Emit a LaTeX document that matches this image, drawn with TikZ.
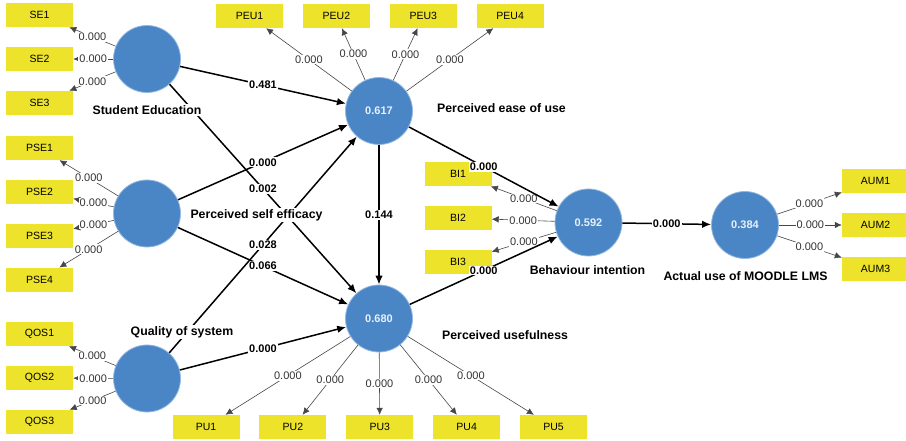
\documentclass[tikz,border=0pt]{standalone}
\usepackage{fontspec}
\setmainfont{Liberation Sans}
\usepackage{xcolor}
\usepackage{tikz}
\usetikzlibrary{positioning,arrows.meta}

\definecolor{lvblue}{RGB}{74,134,197}
\definecolor{lvedge}{RGB}{150,185,225}
\definecolor{mvyellow}{RGB}{237,227,42}
\definecolor{mvline}{RGB}{70,70,70}

\begin{document}
\begin{tikzpicture}[x=1pt, y=1pt, node distance=19.5pt,
	lv/.style={circle, fill=lvblue, draw=lvedge, line width=0.8pt, minimum size=67pt, inner sep=0pt, text=white!88!lvblue, font=\fontsize{11}{13}\selectfont\bfseries},
	mv/.style={rectangle, fill=mvyellow, minimum width=67pt, minimum height=24pt, inner sep=0pt, font=\fontsize{10.5}{12}\selectfont},
	lvname/.style={fill=white, inner sep=1pt, font=\fontsize{12.3}{14}\selectfont\bfseries},
	loading/.style={draw=mvline, line width=0.6pt, -{Latex[length=7pt,width=6.5pt]}},
	struct/.style={draw=black, line width=1.5pt, -{Latex[length=9pt,width=7.5pt]}},
	val/.style={fill=white, inner sep=1pt, text=black!80, font=\fontsize{11}{13}\selectfont},
	coef/.style={fill=white, inner sep=1pt, font=\fontsize{11}{13}\selectfont\bfseries}]
	\useasboundingbox (0,0) rectangle (906,441);

	% latent variables
	\node[lv] (SE) at (147,382) {};
	\node[lv] (PSE) at (147,227.5) {};
	\node[lv] (QOS) at (147,62.5) {};
	\node[lv] (PEU) at (379,330) {0.617};
	\node[lv] (PU) at (379,122.5) {0.680};
	\node[lv] (BI) at (588.5,218.5) {0.592};
	\node[lv] (AUM) at (745,216) {0.384};

	% indicators
	\node[mv] (SE2) at (39.5,382) {SE2};
	\node[mv, above=of SE2] (SE1) {SE1};
	\node[mv, below=of SE2] (SE3) {SE3};
	\node[mv] (PSE1) at (39.5,293) {PSE1};
	\node[mv, below=of PSE1] (PSE2) {PSE2};
	\node[mv, below=of PSE2] (PSE3) {PSE3};
	\node[mv, below=of PSE3] (PSE4) {PSE4};
	\node[mv] (QOS2) at (39.5,63) {QOS2};
	\node[mv, above=of QOS2] (QOS1) {QOS1};
	\node[mv, below=of QOS2] (QOS3) {QOS3};
	\node[mv] (PEU1) at (249.5,425) {PEU1};
	\node[mv, right=of PEU1] (PEU2) {PEU2};
	\node[mv, right=of PEU2] (PEU3) {PEU3};
	\node[mv, right=of PEU3] (PEU4) {PEU4};
	\node[mv] (PU1) at (206,14) {PU1};
	\node[mv, right=of PU1] (PU2) {PU2};
	\node[mv, right=of PU2] (PU3) {PU3};
	\node[mv, right=of PU3] (PU4) {PU4};
	\node[mv, right=of PU4] (PU5) {PU5};
	\node[mv] (BI2) at (458,223) {BI2};
	\node[mv, above=of BI2] (BI1) {BI1};
	\node[mv, below=of BI2] (BI3) {BI3};
	\node[mv] (AUM2) at (875.5,216) {AUM2};
	\node[mv, above=of AUM2] (AUM1) {AUM1};
	\node[mv, below=of AUM2] (AUM3) {AUM3};

	% outer loadings
	\draw[loading] (SE) -- node[val] {0.000} (SE1);
	\draw[loading] (SE) -- node[val] {0.000} (SE2);
	\draw[loading] (SE) -- node[val] {0.000} (SE3);
	\draw[loading] (PSE) -- node[val] {0.000} (PSE1);
	\draw[loading] (PSE) -- node[val] {0.000} (PSE2);
	\draw[loading] (PSE) -- node[val] {0.000} (PSE3);
	\draw[loading] (PSE) -- node[val] {0.000} (PSE4);
	\draw[loading] (QOS) -- node[val] {0.000} (QOS1);
	\draw[loading] (QOS) -- node[val] {0.000} (QOS2);
	\draw[loading] (QOS) -- node[val] {0.000} (QOS3);
	\draw[loading] (PEU) -- node[val] {0.000} (PEU1);
	\draw[loading] (PEU) -- node[val] {0.000} (PEU2);
	\draw[loading] (PEU) -- node[val] {0.000} (PEU3);
	\draw[loading] (PEU) -- node[val] {0.000} (PEU4);
	\draw[loading] (PU) -- node[val] {0.000} (PU1);
	\draw[loading] (PU) -- node[val] {0.000} (PU2);
	\draw[loading] (PU) -- node[val] {0.000} (PU3);
	\draw[loading] (PU) -- node[val] {0.000} (PU4);
	\draw[loading] (PU) -- node[val] {0.000} (PU5);
	\draw[loading] (BI) -- node[val] {0.000} (BI1);
	\draw[loading] (BI) -- node[val] {0.000} (BI2);
	\draw[loading] (BI) -- node[val] {0.000} (BI3);
	\draw[loading] (AUM) -- node[val] {0.000} (AUM1);
	\draw[loading] (AUM) -- node[val] {0.000} (AUM2);
	\draw[loading] (AUM) -- node[val] {0.000} (AUM3);

	% inner model
	\draw[struct] (SE) -- node[coef] {0.481} (PEU);
	\draw[struct] (SE) -- node[coef] {0.002} (PU);
	\draw[struct] (PSE) -- node[coef] {0.000} (PEU);
	\draw[struct] (PSE) -- node[coef] {0.066} (PU);
	\draw[struct] (QOS) -- node[coef] {0.028} (PEU);
	\draw[struct] (QOS) -- node[coef] {0.000} (PU);
	\draw[struct] (PEU) -- node[coef] {0.144} (PU);
	\draw[struct] (PEU) -- node[coef] {0.000} (BI);
	\draw[struct] (PU) -- node[coef] {0.000} (BI);
	\draw[struct] (BI) -- node[coef] {0.000} (AUM);

	% names
	\node[lvname] (SEname) at (147,331) {Student Education};
	\node[lvname] (PSEname) at (256.5,226) {Perceived self efficacy};
	\node[lvname] (QOSname) at (182,109) {Quality of system};
	\node[lvname, anchor=west] (PEUname) at (436,333) {Perceived ease of use};
	\node[lvname, anchor=west] (PUname) at (441,105.5) {Perceived usefulness};
	\node[lvname] (BIname) at (587.5,171) {Behaviour intention};
	\node[lvname] (AUMname) at (745.5,164.5) {Actual use of MOODLE LMS};
\end{tikzpicture}
\end{document}
